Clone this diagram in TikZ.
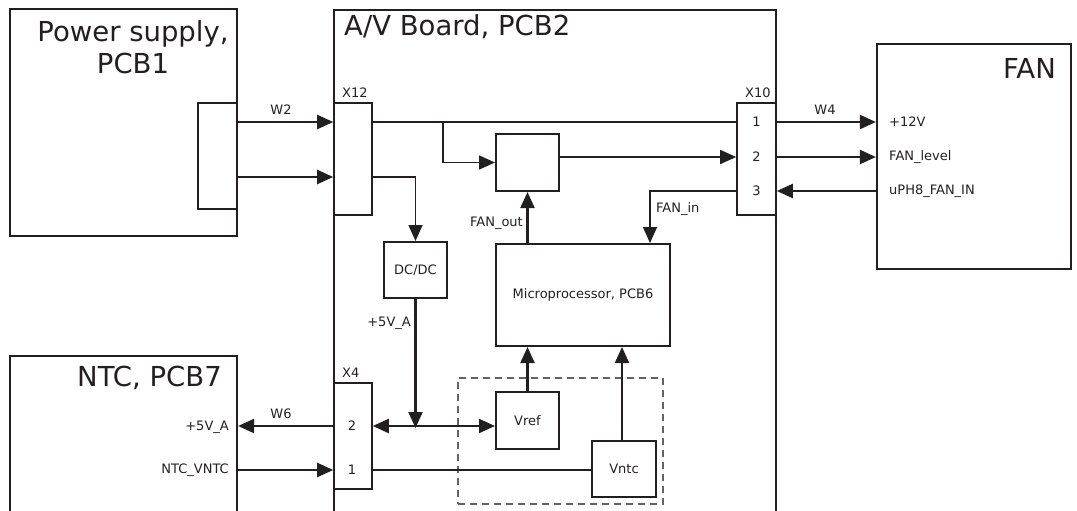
\documentclass[tikz,border=0pt]{standalone}
\usepackage{fontspec}
\setmainfont{DejaVu Sans}
\usetikzlibrary{arrows.meta}
\definecolor{ink}{HTML}{231F20}
\tikzset{
    board/.style={draw=ink, line width=2.2pt, inner sep=0pt},
    block/.style={draw=ink, line width=2pt, inner sep=0pt, text=ink, font=\fontsize{13}{15}\selectfont},
    conn/.style={draw=ink, line width=1.6pt, inner sep=0pt},
    small/.style={text=ink, inner sep=0pt, font=\fontsize{13}{15}\selectfont},
    title/.style={text=ink, inner sep=0pt, font=\fontsize{27.5}{32}\selectfont},
    tip/.style={-{Triangle[length=16pt,width=14pt]}},
    wire/.style={draw=ink, line width=2.2pt},
    trace/.style={draw=ink, line width=1.5pt}
}
\begin{document}
\begin{tikzpicture}[x=1pt, y=-1pt]
    \useasboundingbox (0,0) rectangle (1077,511);
    \clip (0,0) rectangle (1077,511);

    % Boards
    \node[board, minimum width=227pt, minimum height=227pt] (psu) at (123.5,122.5) {};
    \node[board, minimum width=442pt, minimum height=530pt] (av) at (555,275) {};
    \node[board, minimum width=227pt, minimum height=184pt] (ntc) at (123.5,448) {};
    \node[board, minimum width=194pt, minimum height=225pt] (fan) at (974,156.5) {};

    % Board titles
    \node[title, align=center] (psu_t) at (133,47) {Power supply,\\PCB1};
    \node[title, anchor=base west] (av_t) at (344,36) {A/V Board, PCB2};
    \node[title, anchor=base east] (ntc_t) at (222,386) {NTC, PCB7};
    \node[title, anchor=base east] (fan_t) at (1056,78) {FAN};

    % Reference area round Vref and Vntc
    \node[draw=ink!70, line width=1.1pt, dash pattern=on 7pt off 5pt, minimum width=205pt, minimum height=126pt] (refarea) at (560.5,441) {};

    % Connectors
    \node[conn, minimum width=39pt, minimum height=106pt] (psuconn) at (217.5,156) {};
    \node[conn, minimum width=38pt, minimum height=112pt] (x12) at (353,159) {};
    \node[conn, minimum width=39pt, minimum height=112pt] (x10) at (756.5,159) {};
    \node[conn, minimum width=38pt, minimum height=106pt] (x4) at (353,436) {};
    \node[small, anchor=base west] (x12_t) at (342,97) {X12};
    \node[small, anchor=base west] (x10_t) at (745,97) {X10};
    \node[small, anchor=base west] (x4_t) at (342,377) {X4};

    % Pins
    \node[small] (x10p1) at (756.5,122) {1};
    \node[small] (x10p2) at (756.5,157) {2};
    \node[small] (x10p3) at (756.5,191) {3};
    \node[small] (x4p2) at (352,426) {2};
    \node[small] (x4p1) at (352,470) {1};
    \coordinate (rowa) at (0,122);
    \coordinate (rowb) at (0,177);
    \coordinate (tap) at (443,122);

    % Blocks on the A/V board
    \node[block, minimum width=63pt, minimum height=57pt] (ctrl) at (527.5,162.5) {};
    \node[block, minimum width=63pt, minimum height=56pt] (dcdc) at (415.5,270) {DC/DC};
    \node[block, minimum width=174pt, minimum height=102pt] (mcu) at (583,295) {Microprocessor, PCB6};
    \node[block, minimum width=63pt, minimum height=57pt] (vref) at (527.5,420.5) {Vref};
    \node[block, minimum width=64pt, minimum height=56pt] (vntc) at (624,469) {Vntc};

    % W2
    \draw[wire, tip] (psuconn.east |- rowa) -- (x12.west |- rowa);
    \draw[wire, tip] (psuconn.east |- rowb) -- (x12.west |- rowb);
    \node[small, anchor=base] (w2) at (281,114) {W2};

    % Supply lines inside the A/V board
    \draw[trace] (x12.east |- rowa) -- (x10.west |- rowa);
    \draw[trace, tip] (tap) |- (ctrl.west);
    \draw[trace, tip] (x12.east |- rowb) -| (dcdc.north);
    \draw[wire, tip] (dcdc.south) -- ([yshift=-2pt]dcdc.south |- x4p2);
    \node[small, anchor=base east] (v5a) at (411,326) {+5V\_A};
    \draw[wire, {Triangle[length=16pt,width=14pt]}-{Triangle[length=16pt,width=14pt]}] (x4.east |- x4p2) -- (vref.west |- x4p2);
    \draw[trace] (x4.east |- x4p1) -- (vntc.west |- x4p1);

    % Fan control
    \draw[trace, tip] (ctrl.east |- x10p2) -- (x10.west |- x10p2);
    \draw[wire, tip] (ctrl.south |- mcu.north) -- (ctrl.south);
    \node[small, anchor=base east] (fanout) at (523,226) {FAN\_out};
    \draw[trace, tip] (x10.west |- x10p3) -| ([xshift=67pt]mcu.north);
    \node[small, anchor=base west] (fanin) at (656,212) {FAN\_in};

    % Reference voltages
    \draw[wire, tip] (vref.north) -- (vref.north |- mcu.south);
    \draw[wire, tip] ([xshift=-2pt]vntc.north) -- ([xshift=-2pt]vntc.north |- mcu.south);

    % W4
    \draw[wire, tip] (x10.east |- x10p1) -- (fan.west |- x10p1);
    \draw[wire, tip] (x10.east |- x10p2) -- (fan.west |- x10p2);
    \draw[wire, tip] (fan.west |- x10p3) -- (x10.east |- x10p3);
    \node[small, anchor=base] (w4) at (825,114) {W4};
    \node[small, anchor=west] (fan12) at (889,122) {+12V};
    \node[small, anchor=west] (fanlvl) at (889,157) {FAN\_level};
    \node[small, anchor=west] (fanin_t) at (889,191) {uPH8\_FAN\_IN};

    % W6
    \draw[wire, tip] (x4.west |- x4p2) -- (ntc.east |- x4p2);
    \draw[wire, tip] (ntc.east |- x4p1) -- (x4.west |- x4p1);
    \node[small, anchor=base] (w6) at (281,418) {W6};
    \node[small, anchor=east] (ntc5v) at (229,427) {+5V\_A};
    \node[small, anchor=east] (ntcv) at (229,470) {NTC\_VNTC};
\end{tikzpicture}
\end{document}
